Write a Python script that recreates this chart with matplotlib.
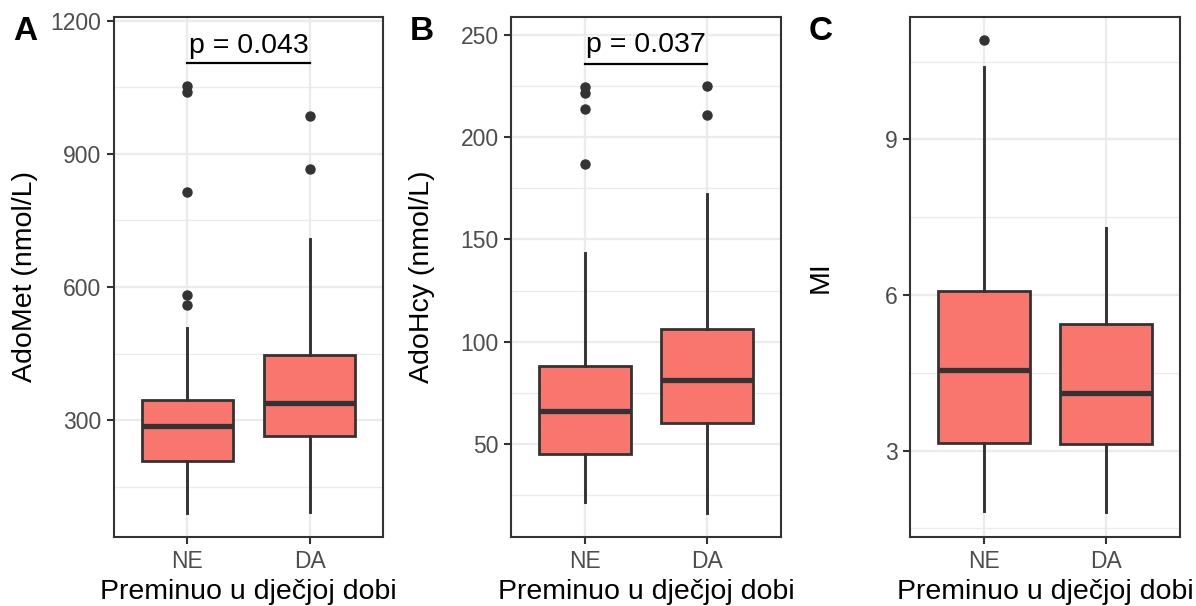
import matplotlib
matplotlib.use("Agg")
import matplotlib.pyplot as plt
from matplotlib.ticker import MultipleLocator

plt.rcParams['font.family'] = ['Liberation Sans', 'DejaVu Sans']

groups = ["NE", "DA"]

# AdoMet (nmol/L): box stats per group
adomet_q1 = [208, 265]
adomet_med = [286, 338]
adomet_q3 = [345, 446]
adomet_lo = [91, 94]
adomet_hi = [507, 707]
adomet_out = [[560, 583, 813, 1040, 1052], [866, 984]]

# AdoHcy (nmol/L)
adohcy_q1 = [45.1, 60.4]
adohcy_med = [66.1, 81.1]
adohcy_q3 = [88.1, 106.2]
adohcy_lo = [21.5, 16.4]
adohcy_hi = [143.6, 172]
adohcy_out = [[186.8, 214, 221.8, 224.7], [210.8, 225]]

# MI
mi_q1 = [3.14, 3.13]
mi_med = [4.56, 4.11]
mi_q3 = [6.08, 5.44]
mi_lo = [1.84, 1.82]
mi_hi = [10.40, 7.30]
mi_out = [[10.91], []]

panels = [
    dict(letter="A", ylabel="AdoMet (nmol/L)", q1=adomet_q1, med=adomet_med, q3=adomet_q3,
         lo=adomet_lo, hi=adomet_hi, out=adomet_out, ylim=(37, 1208), major=300, minor=150,
         p="p = 0.043", p_line=1104, p_text=1128, left=114, right=383),
    dict(letter="B", ylabel="AdoHcy (nmol/L)", q1=adohcy_q1, med=adohcy_med, q3=adohcy_q3,
         lo=adohcy_lo, hi=adohcy_hi, out=adohcy_out, ylim=(4.5, 258.8), major=50, minor=25,
         p="p = 0.037", p_line=236, p_text=241.5, left=511, right=781),
    dict(letter="C", ylabel="MI", q1=mi_q1, med=mi_med, q3=mi_q3,
         lo=mi_lo, hi=mi_hi, out=mi_out, ylim=(1.336, 11.36), major=3, minor=1.5,
         p=None, left=910, right=1180),
]

W, H = 1196, 606
fig = plt.figure(figsize=(W / 100, H / 100), dpi=100)

dark = "#333333"
grey_txt = "#4D4D4D"
grid_c = "#EBEBEB"
fill = "#F8766D"

top_px, bot_px = 17, 537
for p in panels:
    ax = fig.add_axes([p["left"] / W, 1 - bot_px / H, (p["right"] - p["left"]) / W, (bot_px - top_px) / H])
    stats = []
    for i in range(2):
        stats.append(dict(med=p["med"][i], q1=p["q1"][i], q3=p["q3"][i],
                          whislo=p["lo"][i], whishi=p["hi"][i], fliers=p["out"][i]))
    ax.bxp(stats, positions=[1, 2], widths=0.75, patch_artist=True, showcaps=False,
           boxprops=dict(facecolor=fill, edgecolor=dark, linewidth=2.0),
           medianprops=dict(color=dark, linewidth=3.8, solid_capstyle='butt'),
           whiskerprops=dict(color=dark, linewidth=2.1),
           flierprops=dict(marker='o', markerfacecolor=dark, markeredgecolor=dark, markersize=6.5))
    ax.set_xlim(0.4, 2.6)
    ax.set_ylim(*p["ylim"])
    ax.set_xticks([1, 2])
    ax.set_xticklabels(groups)
    ax.yaxis.set_major_locator(MultipleLocator(p["major"]))
    ax.yaxis.set_minor_locator(MultipleLocator(p["minor"]))
    ax.set_axisbelow(True)
    ax.grid(True, which='major', color=grid_c, linewidth=1.6)
    ax.grid(True, which='minor', axis='y', color=grid_c, linewidth=0.9)
    ax.tick_params(axis='both', which='major', length=5, width=1.5, color=dark,
                   labelsize=16.5, labelcolor=grey_txt, pad=4)
    ax.tick_params(axis='y', which='minor', length=0)
    for s in ax.spines.values():
        s.set_color(dark)
        s.set_linewidth(1.5)
    ax.set_xlabel("Preminuo u dječjoj dobi", fontsize=20.5, color="black", labelpad=5)
    ax.set_ylabel(p["ylabel"], fontsize=20.5, color="black")
    ax.yaxis.set_label_coords(-76 / (p["right"] - p["left"]), 0.5)
    if p["p"]:
        ax.plot([1, 2], [p["p_line"], p["p_line"]], color="black", linewidth=1.6)
        ax.text(1.5, p["p_text"], p["p"], ha='center', va='baseline', fontsize=20.5)
    fig.text((p["left"] - 89) / W, 1 - 32 / H, p["letter"], fontsize=24, fontweight='bold',
             ha='center', va='center')

fig.savefig("out.png", dpi=100)
